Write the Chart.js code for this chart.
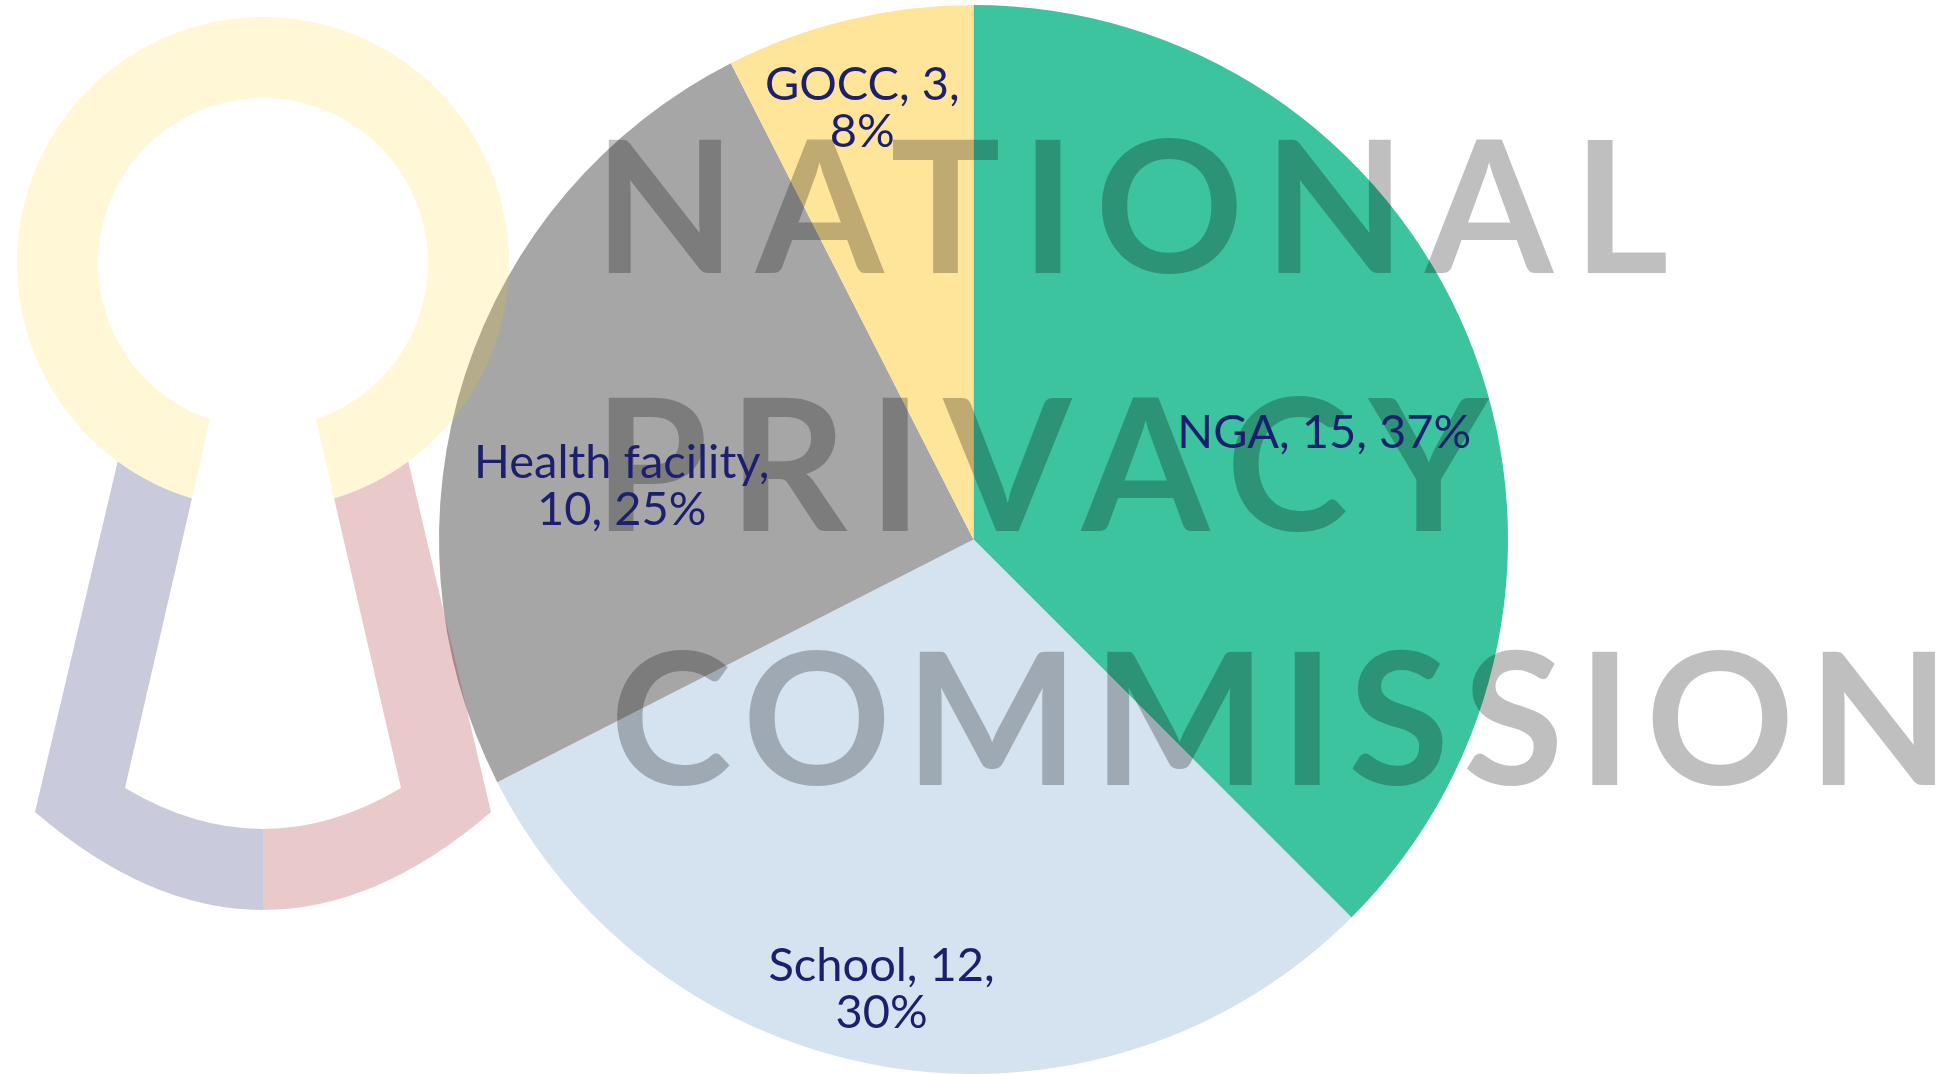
<!DOCTYPE html>
<html>
<head>
<meta charset="utf-8">
<script src="https://cdn.jsdelivr.net/npm/chart.js@4.4.1/dist/chart.umd.min.js"></script>
<style>
  html, body { margin: 0; padding: 0; background: #fff; }
  #wrap { position: relative; width: 1947px; height: 1074px; }
</style>
</head>
<body>
<div id="wrap"><canvas id="chart"></canvas></div>
<script>
// Pie of complaints by sector, with the NPC keyhole + wordmark watermark over it

const categories = ['NGA', 'School', 'Health facility', 'GOCC'];
const counts = [15, 12, 10, 3];
const percents = [37, 30, 25, 8];
const sliceColors = ['#3BC49E', '#D5E2EF', '#A6A6A6', '#FFE599'];

// data label placement: fraction of the radius, nudge off the slice middle (deg)
const labelRadius = [0.687, 0.855, 0.666, 0.837];
const labelNudge = [5.3, 2.6, -9.2, -0.9];
// how many label parts go on the first line (0 = one line)
const labelBreak = [0, 2, 1, 2];

const watermarkLines = ['NATIONAL', 'PRIVACY', 'COMMISSION'];

const LABEL_COLOR = '#1B1F6E';
const LABEL_FONT_SIZE = 47;
const LABEL_LINE = 47;

// wordmark box for each line: ink left, ink right, baseline
const WM_LEFT = [608, 608, 617];
const WM_RIGHT = [1666, 1490, 1935];
const WM_BASE = [273, 531, 785];
const WM_SIZE = 184;

const deg = Math.PI / 180;

function drawKeyhole(ctx) {
    const cx = 263, cy = 263, rOut = 246, rIn = 165;
    ctx.save();

    // yellow ring, open at the slot
    ctx.fillStyle = 'rgba(255, 204, 0, 0.16)';
    ctx.beginPath();
    ctx.arc(cx, cy, rOut, 106.8 * deg, 433.2 * deg, false);
    ctx.lineTo(316, 419);
    ctx.arc(cx, cy, rIn, 71.2 * deg, 108.8 * deg, true);
    ctx.closePath();
    ctx.fill();

    // the two legs, mirrored round x = cx
    const leg = (color, flip) => {
        ctx.save();
        if (flip) {
            ctx.translate(2 * cx, 0);
            ctx.scale(-1, 1);
        }
        ctx.fillStyle = color;
        ctx.beginPath();
        ctx.arc(cx, cy, rOut, 126.2 * deg, 106.8 * deg, true);
        ctx.lineTo(125, 788);
        ctx.quadraticCurveTo(194, 829, 263, 829);
        ctx.lineTo(263, 910);
        ctx.quadraticCurveTo(149, 910, 35, 812);
        ctx.closePath();
        ctx.fill();
        ctx.restore();
    };
    leg('rgba(38, 43, 110, 0.25)', false);
    leg('rgba(170, 40, 45, 0.25)', true);

    ctx.restore();
}

function drawWatermark(ctx) {
    ctx.save();
    ctx.font = `700 ${WM_SIZE}px Lato`;
    ctx.fillStyle = 'rgba(0, 0, 0, 0.25)';
    ctx.textBaseline = 'alphabetic';
    ctx.textAlign = 'left';
    watermarkLines.forEach((txt, i) => {
        ctx.letterSpacing = '0px';
        const m = ctx.measureText(txt);
        const ink = m.actualBoundingBoxLeft + m.actualBoundingBoxRight;
        const sp = (WM_RIGHT[i] - WM_LEFT[i] - ink) / (txt.length - 1);
        ctx.letterSpacing = sp + 'px';
        ctx.fillText(txt, WM_LEFT[i] + m.actualBoundingBoxLeft, WM_BASE[i]);
    });
    ctx.restore();
}

function drawLabels(chart) {
    const ctx = chart.ctx;
    const meta = chart.getDatasetMeta(0);
    ctx.save();
    ctx.font = `400 ${LABEL_FONT_SIZE}px Lato`;
    ctx.fillStyle = LABEL_COLOR;
    ctx.textAlign = 'center';
    ctx.textBaseline = 'alphabetic';
    const capH = LABEL_FONT_SIZE * 0.72;
    meta.data.forEach((arc, i) => {
        const p = arc.getProps(['x', 'y', 'startAngle', 'endAngle', 'outerRadius'], true);
        const a = (p.startAngle + p.endAngle) / 2 + labelNudge[i] * deg;
        const r = p.outerRadius * labelRadius[i];
        const x = p.x + Math.cos(a) * r;
        const y = p.y + Math.sin(a) * r;
        const parts = [categories[i], String(counts[i]), percents[i] + '%'];
        const lines = labelBreak[i]
            ? [parts.slice(0, labelBreak[i]).join(', ') + ',', parts.slice(labelBreak[i]).join(', ')]
            : [parts.join(', ')];
        const first = y - (lines.length - 1) * LABEL_LINE / 2 + capH / 2;
        lines.forEach((ln, k) => ctx.fillText(ln, x, first + k * LABEL_LINE));
    });
    ctx.restore();
}

const overlayPlugin = {
    id: 'overlay',
    afterDatasetsDraw(chart) {
        drawKeyhole(chart.ctx);
        drawWatermark(chart.ctx);
        drawLabels(chart);
    }
};

new Chart(document.getElementById('chart'), {
    type: 'pie',
    data: {
        labels: categories,
        datasets: [{
            data: counts,
            backgroundColor: sliceColors,
            borderWidth: 0
        }]
    },
    options: {
        responsive: true,
        maintainAspectRatio: false,
        animation: false,
        layout: { padding: { top: 5, bottom: 0 } },
        plugins: {
            legend: { display: false },
            tooltip: { enabled: false }
        }
    },
    plugins: [overlayPlugin]
});
</script>
</body>
</html>
